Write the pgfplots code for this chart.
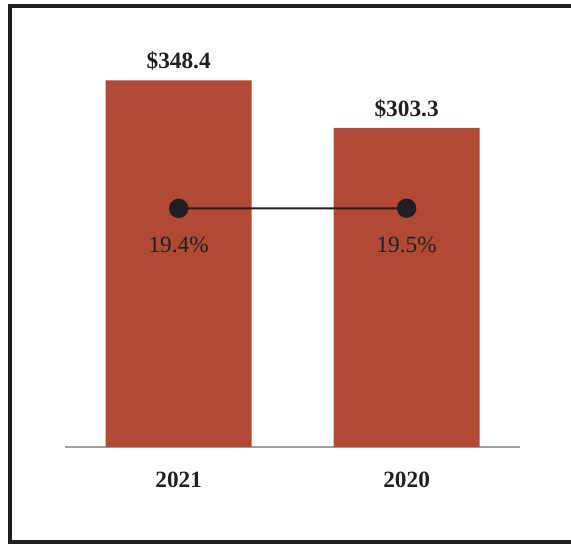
\documentclass[border=0pt]{standalone}
\usepackage{pgfplots}
\pgfplotsset{compat=1.18}
\usepackage{fontspec}
\setmainfont{Liberation Serif}
\definecolor{barred}{RGB}{176,74,52}
\definecolor{ink}{RGB}{35,31,32}
\definecolor{axgray}{RGB}{160,160,164}
\begin{document}
\begin{tikzpicture}
\useasboundingbox (0,0) rectangle (285.5pt,272pt);
\begin{scope}
\clip (0,0) rectangle (285.5pt,272pt);
\draw[ink, line width=2pt] (300pt,269pt) -- (4.75pt,269pt) -- (4.75pt,0.75pt) -- (300pt,0.75pt);
\end{scope}
\begin{axis}[at={(32.5pt,48.5pt)}, anchor=south west, scale only axis,
  width=227.5pt, height=208.5pt,
  xmin=-0.4987, xmax=1.4974, ymin=0, ymax=396.4,
  axis x line*=bottom, axis y line=none,
  axis line style={axgray, line width=0.7pt, -},
  xtick={0,1}, xticklabels={2021,2020}, major tick length=0,
  xticklabel style={font=\fontsize{11.65}{14}\selectfont\bfseries, text=ink, anchor=base, yshift=-20.5pt},
  /pgf/number format/assume math mode=true,
  ybar, bar width=0.64,
  nodes near coords={\$\pgfmathprintnumber[fixed,fixed zerofill,precision=1]{\pgfplotspointmeta}},
  every node near coord/.append style={font=\fontsize{11.65}{14}\selectfont\bfseries, text=ink, anchor=base, yshift=5.8pt},
  clip=false]
\addplot[fill=barred, draw=none] coordinates {(0,348.4) (1,303.3)};
\end{axis}
\begin{axis}[at={(32.5pt,48.5pt)}, anchor=south west, scale only axis,
  width=227.5pt, height=208.5pt,
  xmin=-0.4987, xmax=1.4974, ymin=-200, ymax=183.4,
  hide axis, clip=false,
  /pgf/number format/assume math mode=true,
  nodes near coords={\pgfmathprintnumber[fixed,fixed zerofill,precision=1]{\pgfplotspointmeta}\%},
  every node near coord/.append style={font=\fontsize{11.65}{14}\selectfont, text=ink, anchor=base, yshift=-22pt}]
\addplot[ink, line width=1pt, mark=*, mark size=4.35pt, mark options={fill=ink, draw=ink}] coordinates {(0,19.4) (1,19.5)};
\end{axis}
\end{tikzpicture}
\end{document}
